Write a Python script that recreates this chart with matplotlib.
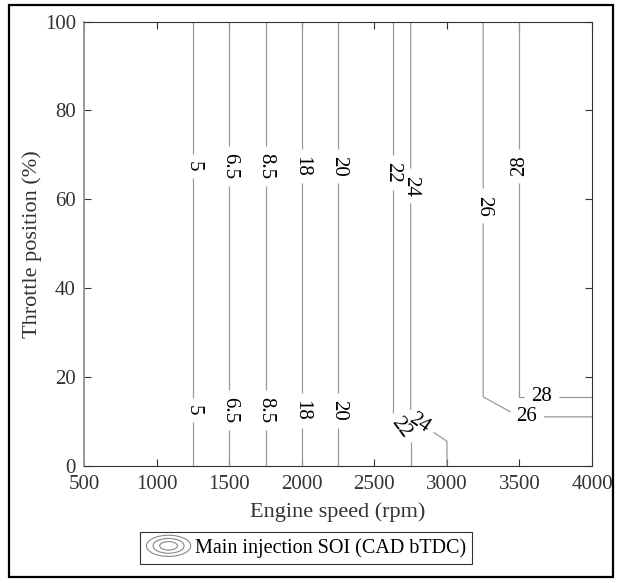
import numpy as np
import matplotlib.pyplot as plt
from matplotlib.patches import Ellipse, Rectangle
from matplotlib.lines import Line2D
from matplotlib.legend_handler import HandlerBase

plt.rcParams['font.family'] = ['Liberation Serif', 'DejaVu Serif']

# ==================== data ====================
speed = np.array([500, 1000, 1250, 1500, 1750, 2000, 2250, 2500, 2750,
                  3000, 3250, 3500, 3750, 4000])
throttle = np.array([0, 5.5, 11, 15.5, 100])
soi_0 = [4, 4, 5, 6.5, 8.5, 18, 20, 20, 22, 24, 24, 24, 24, 24]
soi_5 = [4, 4, 5, 6.5, 8.5, 18, 20, 20, 22, 24, 24, 24, 24, 24]
soi_11 = [4, 4, 5, 6.5, 8.5, 18, 20, 20, 24, 24, 24, 26, 26, 26]
soi_15 = [4, 4, 5, 6.5, 8.5, 18, 20, 20, 24, 24, 26, 28, 28, 28]
soi_100 = [4, 4, 5, 6.5, 8.5, 18, 20, 20, 24, 24, 26, 28, 28, 28]
levels = [5, 6.5, 8.5, 18, 20, 22, 24, 26, 28]

soi = np.array([soi_0, soi_5, soi_11, soi_15, soi_100])

# label spots (data coords) and rotation override (None = follow line)
label_pos = [(1250, 67.5), (1500, 67.5), (1750, 67.5), (2000, 67.5), (2250, 67.5),
             (2625, 66), (2750, 63), (3250, 58.5), (3500, 67.5),
             (1250, 12.5), (1500, 12.5), (1750, 12.5), (2000, 12.5), (2250, 12.5),
             (2682, 8.5), (2810, 9.7), (3550, 11), (3650, 15.5)]
label_rot = [-90, -90, -90, -90, -90, -90, -90, -90, 90,
             -90, -90, -90, -90, -90, None, None, 0, 0]

ink = '#333333'

fig = plt.figure(figsize=(6.21, 5.83), dpi=100)
ax = fig.add_axes([0.1357, 0.2012, 0.8176, 0.7616])

# ">=" rule: contour the negated field so a line sits where values first reach a level
neg_levels = sorted(-np.array(levels))
cs = ax.contour(speed, throttle, -soi, levels=neg_levels, colors='#999999',
                linewidths=0.9, linestyles='solid')
txts = ax.clabel(cs, manual=label_pos, inline=True, fontsize=15, colors='black',
                 fmt=lambda v: '%g' % (-v), inline_spacing=7)
for t, r in zip(txts, label_rot):
    if r is not None:
        t.set_rotation(r)

ax.set_xlim(500, 4000)
ax.set_ylim(0, 100)
ax.set_xticks(np.arange(500, 4001, 500))
ax.set_yticks(np.arange(0, 101, 20))
ax.tick_params(direction='in', top=True, right=True, length=5, width=0.8,
               labelsize=15, colors=ink)
ax.tick_params(axis='x', pad=7)
ax.tick_params(axis='y', pad=6)
for s in ax.spines.values():
    s.set_color(ink)
    s.set_linewidth(0.8)
ax.spines['left'].set_color('#999999')
ax.spines['left'].set_linewidth(1.4)

ax.set_xlabel('Engine speed (rpm)', fontsize=16, color=ink, labelpad=6)
ax.set_ylabel('Throttle position (%)', fontsize=16, color=ink, labelpad=2)


# legend with a little contour icon
class ContourIcon(HandlerBase):
    def create_artists(self, legend, orig_handle, xdescent, ydescent,
                       width, height, fontsize, trans):
        cx = width / 2 - xdescent
        cy = height / 2 - ydescent
        arts = []
        for f in [1.0, 0.7, 0.4]:
            arts.append(Ellipse((cx, cy), width * f, height * 1.5 * f, fill=False,
                                edgecolor='#888888', lw=0.8, transform=trans))
        return arts


proxy = Line2D([], [])
leg = fig.legend([proxy], ['Main injection SOI (CAD bTDC)'], loc='center',
                 bbox_to_anchor=(0.493, 0.06), fontsize=14.5, frameon=True,
                 fancybox=False, edgecolor=ink, framealpha=1, handlelength=2.2,
                 handletextpad=0.2, borderpad=0.3, handler_map={proxy: ContourIcon()})
leg.get_frame().set_linewidth(0.8)

# outer frame of the figure
fig.patches.append(Rectangle((9 / 621, 1 - 577 / 583), 604 / 621, 572 / 583,
                             transform=fig.transFigure, fill=False, lw=1.6,
                             edgecolor='black'))

plt.savefig('out.png', dpi=100)
